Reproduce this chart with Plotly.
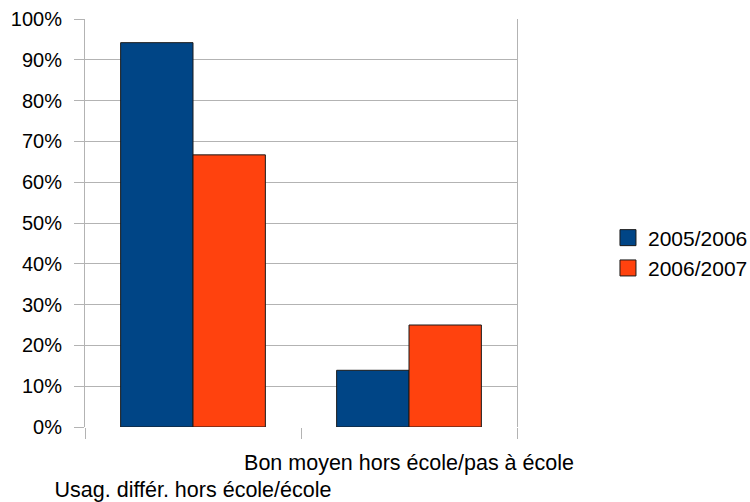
import plotly.graph_objects as go

# Survey shares per category, by school year
categories = ["Usag. différ. hors école/école", "Bon moyen hors école/pas à école"]
series_names = ["2005/2006", "2006/2007"]
values_2005 = [0.942, 0.139]
values_2006 = [0.667, 0.25]
y_ticks = [0.0, 0.1, 0.2, 0.3, 0.4, 0.5, 0.6, 0.7, 0.8, 0.9, 1.0]

colors = ["#004586", "#ff420e"]
grid = "#b3b3b3"
font_family = "Liberation Sans, Arial, sans-serif"

# Staggered category labels: the first one is pushed to a second line
tick_text = ["<br>" + categories[0], categories[1]]

fig = go.Figure()
for name, vals, col in zip(series_names, [values_2005, values_2006], colors):
    fig.add_trace(go.Bar(
        x=categories, y=vals, name=name,
        marker=dict(color=col, line=dict(color="#1a1a1a", width=1)),
        showlegend=False,
    ))
    # legend entry with a larger square swatch
    fig.add_trace(go.Scatter(
        x=[None], y=[None], mode="markers", name=name,
        marker=dict(symbol="square", size=16, color=col,
                    line=dict(color="#1a1a1a", width=1)),
    ))

fig.update_layout(
    width=750, height=502,
    margin=dict(l=85, r=233, t=19, b=75, autoexpand=False),
    paper_bgcolor="white", plot_bgcolor="white",
    font=dict(family=font_family, size=20, color="#000000"),
    barmode="group", bargap=0.33, bargroupgap=0,
    legend=dict(x=1.2106, xanchor="left", xref="paper", y=0.4265, yanchor="middle",
                font=dict(size=21), itemwidth=30, bgcolor="rgba(0,0,0,0)"),
    showlegend=True,
)
fig.update_xaxes(
    type="category", categoryorder="array", categoryarray=categories,
    tickmode="array", tickvals=categories, ticktext=tick_text,
    tickson="boundaries", ticks="outside", ticklen=11, tickcolor=grid, tickwidth=1,
    showgrid=False, showline=False, zeroline=False, tickangle=0, automargin=False,
    ticklabelstandoff=20, tickfont=dict(size=21.5),
)
fig.update_yaxes(
    range=[0, 1], tickmode="array", tickvals=y_ticks,
    tickformat=".0%", ticks="outside", ticklen=10, tickcolor=grid, tickwidth=1,
    showgrid=True, gridcolor=grid, gridwidth=1,
    showline=True, linecolor=grid, linewidth=1, mirror=True,
    zeroline=False, ticklabelstandoff=8, automargin=False,
    tickfont=dict(size=20),
)

fig.write_html("out.html")
